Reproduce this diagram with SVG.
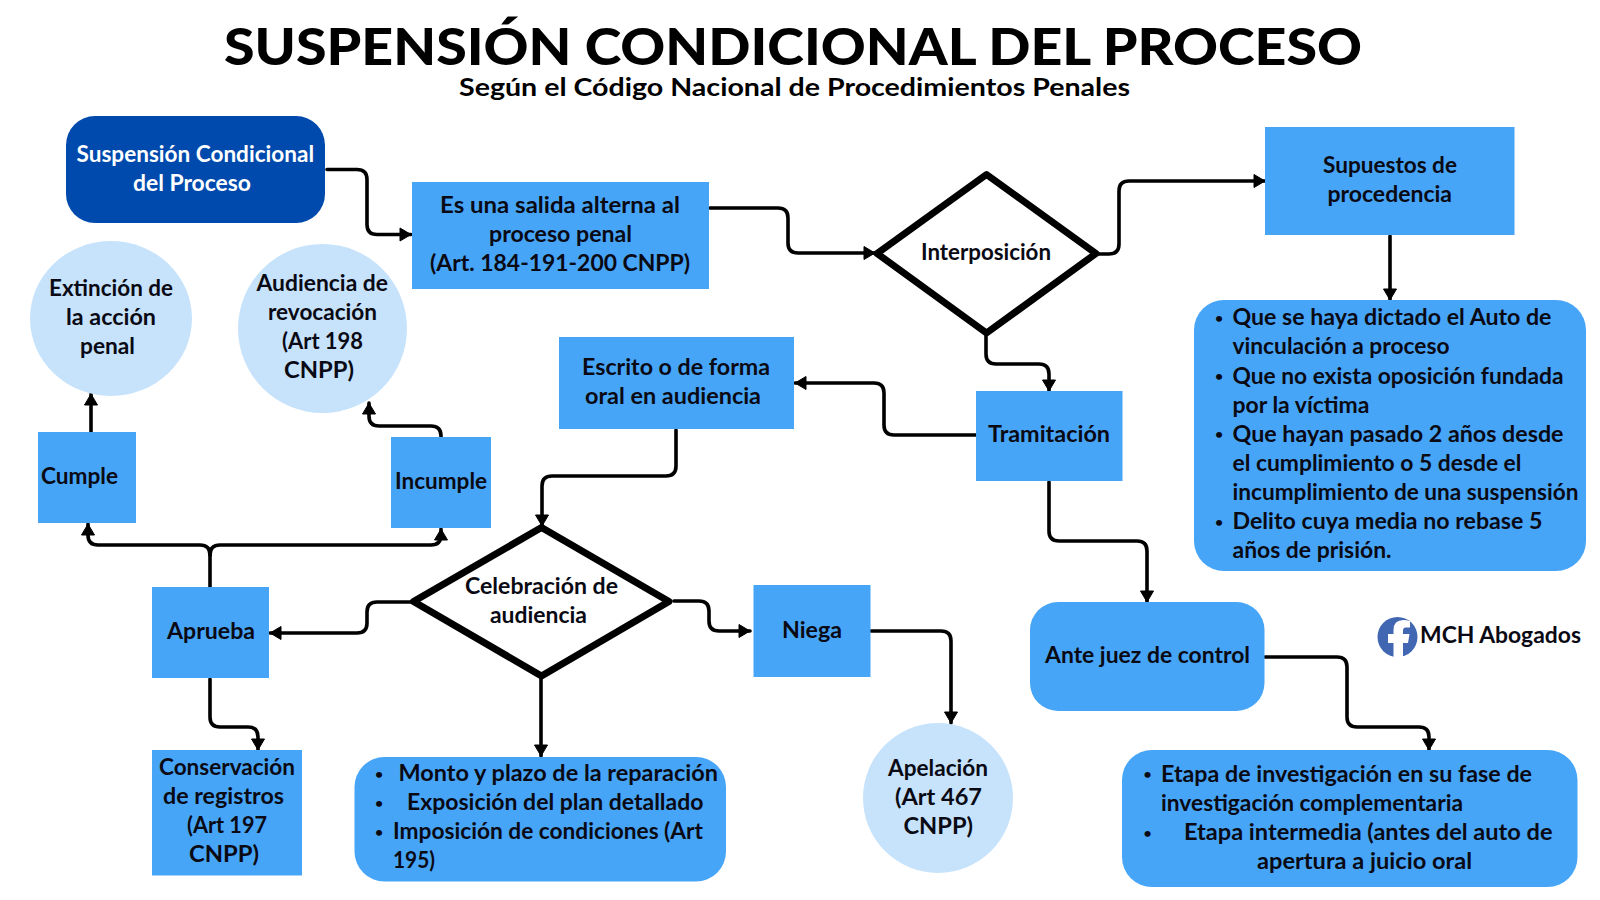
<svg xmlns="http://www.w3.org/2000/svg" width="1600" height="900" viewBox="0 0 1600 900">
<style>
text{font-family:"Lato","Liberation Sans",sans-serif;font-weight:700;font-size:22px;fill:#0a0a14}
.title{font-size:52px;font-weight:900;fill:#000}
.sub{font-size:25px;fill:#000}
.w{fill:#fff}
.b{font-size:14px;text-anchor:middle}
.box{fill:#47a5f8}
.dark{fill:#004aad}
.pale{fill:#c7e3fc}
.dia{fill:#fff;stroke:#000;stroke-width:7;stroke-linejoin:round}
#connectors path{fill:none;stroke:#000;stroke-width:3.600;stroke-linecap:round;marker-end:url(#arrow)}
#connectors path.plain{marker-end:none}
</style>
<defs><marker id="arrow" markerUnits="userSpaceOnUse" markerWidth="16" markerHeight="16" refX="12" refY="8" orient="auto"><path d="M1 1.500L12 8L1 14.500Z" fill="#000" stroke="#000" stroke-width="1" stroke-linejoin="round"/></marker></defs>
<rect width="1600" height="900" fill="#fff"/>
<g id="title">
<text class="title" x="224" y="65" textLength="1138" lengthAdjust="spacingAndGlyphs">SUSPENSIÓN CONDICIONAL DEL PROCESO</text>
<text class="sub" x="459" y="96" textLength="671" lengthAdjust="spacingAndGlyphs">Según el Código Nacional de Procedimientos Penales</text>
</g>
<g id="connectors">
<path d="M327 169.500H357Q367 169.500 367 179.500V224.500Q367 234.500 377 234.500H411"/>
<path d="M710 208H778Q788 208 788 218V243Q788 253 798 253H875"/>
<path d="M1097 254H1109Q1119 254 1119 244V191Q1119 181 1129 181H1265"/>
<path d="M1390 236V300"/>
<path d="M986 335V354Q986 364 996 364H1039Q1049 364 1049 374V391"/>
<path d="M976 435H894Q884 435 884 425V393Q884 383 874 383H795"/>
<path d="M1049 482V531Q1049 541 1059 541H1137Q1147 541 1147 551V602"/>
<path d="M676 430V466Q676 476 666 476H552Q542 476 542 486V526"/>
<path d="M412 602H377Q367 602 367 612V623Q367 633 357 633H270"/>
<path d="M674 601H699Q709 601 709 611V621Q709 631 719 631H750"/>
<path class="plain" d="M210 587V555"/>
<path d="M210 555Q210 545 200 545H98Q88 545 88 535V524"/>
<path d="M210 555Q210 545 220 545H431Q441 545 441 535V529"/>
<path d="M210 679V717Q210 727 220 727H248Q258 727 258 737V750"/>
<path d="M541 678V756"/>
<path d="M871 631H941Q951 631 951 641V723"/>
<path d="M1265 657H1337Q1347 657 1347 667V717Q1347 727 1357 727H1419Q1429 727 1429 737V750"/>
<path d="M91 432V394"/>
<path d="M441 437V436Q441 426 431 426H379Q369 426 369 416V403"/>
</g>
<g id="n-suspension"><rect class="dark" x="66" y="116" width="259" height="107" rx="29"/>
<text class="w" x="76.500" y="162" textLength="237.500" lengthAdjust="spacingAndGlyphs">Suspensión Condicional</text>
<text class="w" x="133" y="191" textLength="118" lengthAdjust="spacingAndGlyphs">del Proceso</text></g>
<g id="n-salida"><rect class="box" x="412" y="182" width="297" height="107"/>
<text x="440" y="212.500" textLength="240" lengthAdjust="spacingAndGlyphs">Es una salida alterna al</text>
<text x="489" y="241.500" textLength="143" lengthAdjust="spacingAndGlyphs">proceso penal</text>
<text x="430" y="270.500" textLength="260" lengthAdjust="spacingAndGlyphs">(Art. 184-191-200 CNPP)</text></g>
<g id="n-extincion"><ellipse class="pale" cx="111" cy="318.500" rx="81" ry="77.500"/>
<text x="49" y="296" textLength="124" lengthAdjust="spacingAndGlyphs">Extinción de</text>
<text x="66" y="325" textLength="90" lengthAdjust="spacingAndGlyphs">la acción</text>
<text x="80" y="354" textLength="55" lengthAdjust="spacingAndGlyphs">penal</text></g>
<g id="n-audiencia"><ellipse class="pale" cx="322.500" cy="328.500" rx="84.500" ry="84.500"/>
<text x="256.500" y="291" textLength="131.500" lengthAdjust="spacingAndGlyphs">Audiencia de</text>
<text x="268" y="320" textLength="109" lengthAdjust="spacingAndGlyphs">revocación</text>
<text x="282" y="349" textLength="81" lengthAdjust="spacingAndGlyphs">(Art 198</text>
<text x="284" y="378" textLength="70" lengthAdjust="spacingAndGlyphs">CNPP)</text></g>
<g id="n-escrito"><rect class="box" x="559" y="337" width="235" height="92"/>
<text x="582" y="375" textLength="188" lengthAdjust="spacingAndGlyphs">Escrito o de forma</text>
<text x="585" y="404" textLength="176" lengthAdjust="spacingAndGlyphs">oral en audiencia</text></g>
<g id="n-cumple"><rect class="box" x="38" y="432" width="98" height="91"/>
<text x="41" y="484" textLength="77" lengthAdjust="spacingAndGlyphs">Cumple</text></g>
<g id="n-incumple"><rect class="box" x="391" y="437" width="100" height="91"/>
<text x="395" y="489" textLength="92" lengthAdjust="spacingAndGlyphs">Incumple</text></g>
<g id="n-interposicion"><path class="dia" d="M986.500 174.500L1096 253.500L986.500 333L877 253.500Z"/>
<text x="921" y="260" textLength="130" lengthAdjust="spacingAndGlyphs">Interposición</text></g>
<g id="n-supuestos"><rect class="box" x="1265" y="127" width="249.500" height="108"/>
<text x="1323" y="173" textLength="134" lengthAdjust="spacingAndGlyphs">Supuestos de</text>
<text x="1327.500" y="202" textLength="124.500" lengthAdjust="spacingAndGlyphs">procedencia</text></g>
<g id="n-requisitos"><rect class="box" x="1194" y="300" width="392" height="271" rx="30"/>
<text class="b" x="1219" y="323">•</text><text class="b" x="1219" y="381">•</text><text class="b" x="1219" y="439">•</text><text class="b" x="1219" y="527">•</text>
<text x="1232.500" y="325" textLength="319" lengthAdjust="spacingAndGlyphs">Que se haya dictado el Auto de</text>
<text x="1232.500" y="354" textLength="217" lengthAdjust="spacingAndGlyphs">vinculación a proceso</text>
<text x="1232.500" y="383.500" textLength="331" lengthAdjust="spacingAndGlyphs">Que no exista oposición fundada</text>
<text x="1232.500" y="412.500" textLength="137" lengthAdjust="spacingAndGlyphs">por la víctima</text>
<text x="1232.500" y="441.500" textLength="331" lengthAdjust="spacingAndGlyphs">Que hayan pasado 2 años desde</text>
<text x="1232.500" y="470.500" textLength="289" lengthAdjust="spacingAndGlyphs">el cumplimiento o 5 desde el</text>
<text x="1232.500" y="499.500" textLength="346" lengthAdjust="spacingAndGlyphs">incumplimiento de una suspensión</text>
<text x="1232.500" y="528.500" textLength="310" lengthAdjust="spacingAndGlyphs">Delito cuya media no rebase 5</text>
<text x="1232.500" y="557.500" textLength="159" lengthAdjust="spacingAndGlyphs">años de prisión.</text></g>
<g id="n-tramitacion"><rect class="box" x="976" y="391" width="146.500" height="90"/>
<text x="988" y="442" textLength="122" lengthAdjust="spacingAndGlyphs">Tramitación</text></g>
<g id="n-aprueba"><rect class="box" x="152" y="587" width="117" height="91"/>
<text x="167" y="639" textLength="88" lengthAdjust="spacingAndGlyphs">Aprueba</text></g>
<g id="n-celebracion"><path class="dia" d="M541.500 527.500L669 601.500L541.500 676L413.500 601.500Z"/>
<text x="465" y="594" textLength="153" lengthAdjust="spacingAndGlyphs">Celebración de</text>
<text x="490" y="623" textLength="97" lengthAdjust="spacingAndGlyphs">audiencia</text></g>
<g id="n-niega"><rect class="box" x="753.500" y="585" width="117" height="92"/>
<text x="782" y="637.500" textLength="60" lengthAdjust="spacingAndGlyphs">Niega</text></g>
<g id="n-conservacion"><rect class="box" x="152" y="750" width="150" height="125.500"/>
<text x="159" y="775" textLength="136" lengthAdjust="spacingAndGlyphs">Conservación</text>
<text x="163" y="804" textLength="121" lengthAdjust="spacingAndGlyphs">de registros</text>
<text x="187" y="833" textLength="80" lengthAdjust="spacingAndGlyphs">(Art 197</text>
<text x="189" y="862" textLength="70" lengthAdjust="spacingAndGlyphs">CNPP)</text></g>
<g id="n-condiciones"><rect class="box" x="354.500" y="757" width="371.500" height="124.500" rx="30"/>
<text class="b" x="379" y="779">•</text><text class="b" x="379" y="808">•</text><text class="b" x="379" y="837">•</text>
<text x="398.500" y="781" textLength="319.500" lengthAdjust="spacingAndGlyphs">Monto y plazo de la reparación</text>
<text x="407" y="810" textLength="296.500" lengthAdjust="spacingAndGlyphs">Exposición del plan detallado</text>
<text x="393" y="839" textLength="310" lengthAdjust="spacingAndGlyphs">Imposición de condiciones (Art</text>
<text x="393" y="868" textLength="42" lengthAdjust="spacingAndGlyphs">195)</text></g>
<g id="n-apelacion"><ellipse class="pale" cx="938" cy="798" rx="75" ry="75"/>
<text x="888" y="776" textLength="100" lengthAdjust="spacingAndGlyphs">Apelación</text>
<text x="895" y="805" textLength="87" lengthAdjust="spacingAndGlyphs">(Art 467</text>
<text x="903.500" y="834" textLength="69.500" lengthAdjust="spacingAndGlyphs">CNPP)</text></g>
<g id="n-juez"><rect class="box" x="1030" y="602" width="234.500" height="109" rx="28"/>
<text x="1045" y="662.500" textLength="205" lengthAdjust="spacingAndGlyphs">Ante juez de control</text></g>
<g id="n-etapas"><rect class="box" x="1122" y="750" width="455.500" height="137" rx="30"/>
<text class="b" x="1147.500" y="779">•</text><text class="b" x="1147.500" y="838">•</text>
<text x="1161" y="782" textLength="371" lengthAdjust="spacingAndGlyphs">Etapa de investigación en su fase de</text>
<text x="1161" y="811" textLength="302" lengthAdjust="spacingAndGlyphs">investigación complementaria</text>
<text x="1184" y="840" textLength="368.500" lengthAdjust="spacingAndGlyphs">Etapa intermedia (antes del auto de</text>
<text x="1257" y="869" textLength="215" lengthAdjust="spacingAndGlyphs">apertura a juicio oral</text></g>
<g id="brand"><circle cx="1397.500" cy="637" r="20" fill="#4267b2"/>
<path d="M1403 657V643H1408L1409.500 634H1403V630.500Q1403 627.500 1406 627.500H1410V621Q1406.500 620 1403.500 620Q1393.500 620 1393.500 630V634H1388V643H1393.500V657Z" fill="#fff"/>
<text x="1420" y="643" textLength="161" lengthAdjust="spacingAndGlyphs">MCH Abogados</text></g>
</svg>
